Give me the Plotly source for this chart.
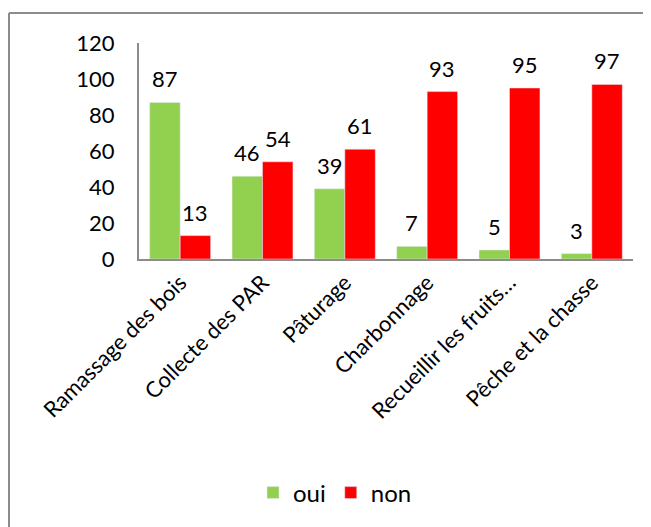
import plotly.graph_objects as go

categories = ["Ramassage des bois", "Collecte des PAR", "Pâturage", "Charbonnage",
              "Recueillir les fruits…", "Pêche et la chasse"]
oui = [87, 46, 39, 7, 5, 3]
non = [13, 54, 61, 93, 95, 97]
y_ticks = [0, 20, 40, 60, 80, 100, 120]

GREEN = "#92D050"
RED = "#FF0000"
FONT = "Lato, Carlito, Calibri, sans-serif"

OFF = 8  # browser body margin
W, H = 651 - OFF, 527 - OFF
L, R, T, B = 139 - OFF, 18, 43 - OFF, 268
pw, ph = W - L - R, H - T - B

idx = list(range(len(categories)))
bargap = 0.26
half = (1 - bargap) / 4

fig = go.Figure()
fig.add_trace(go.Bar(x=idx, y=oui, name="oui", marker_color=GREEN))
fig.add_trace(go.Bar(x=idx, y=non, name="non", marker_color=RED))

ann = []
for i, (a, b) in enumerate(zip(oui, non)):
    for xv, v in ((i - half, a), (i + half, b)):
        ann.append(dict(x=xv, y=v, xref="x", yref="y", text=str(v), showarrow=False,
                        yanchor="bottom", yshift=8, font=dict(size=22, color="#000", family=FONT)))

def px_x(p):
    return (p - OFF - L) / pw

def px_y(p):
    return (H + OFF - B - p) / ph

shapes = [
    dict(type="line", xref="paper", yref="paper", x0=px_x(9), x1=px_x(700), y0=px_y(13), y1=px_y(13),
         line=dict(color="#8c8c8c", width=2)),
    dict(type="line", xref="paper", yref="paper", x0=px_x(9), x1=px_x(9), y0=px_y(13), y1=px_y(600),
         line=dict(color="#8c8c8c", width=2)),
]

fig.update_layout(
    width=W, height=H,
    margin=dict(l=L, r=R, t=T, b=B, autoexpand=False),
    paper_bgcolor="white", plot_bgcolor="white",
    barmode="group", bargap=bargap, bargroupgap=0,
    font=dict(family=FONT, color="#000"),
    annotations=ann,
    shapes=shapes,
    showlegend=True,
    legend=dict(orientation="h", x=px_x(335), xanchor="center", y=px_y(493), yanchor="middle",
                font=dict(size=24, family=FONT), itemwidth=30, traceorder="normal"),
)
fig.update_xaxes(
    tickmode="array", tickvals=idx, ticktext=categories, tickangle=-45,
    range=[-0.5, len(categories) - 0.5],
    showline=True, linecolor="#8c8c8c", linewidth=2, ticks="", showgrid=False,
    tickfont=dict(size=22, family=FONT),
)
fig.update_yaxes(
    range=[0, 120], tickmode="array", tickvals=y_ticks,
    showline=True, linecolor="#8c8c8c", linewidth=2, ticks="", showgrid=False, zeroline=False,
    tickfont=dict(size=22, family=FONT), ticklabelstandoff=18,
)

fig.write_html("out.html")
